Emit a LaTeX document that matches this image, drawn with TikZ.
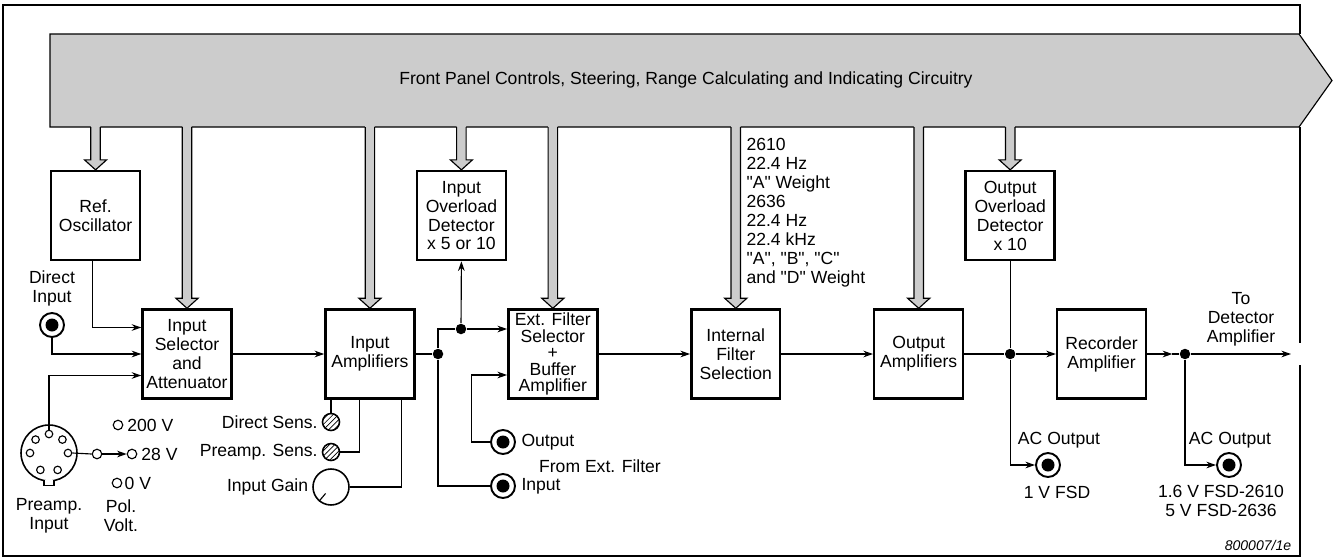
\documentclass[tikz,border=0pt]{standalone}
\usepackage{fontspec}
\setmainfont{Liberation Sans}
\usetikzlibrary{arrows.meta,positioning,calc,patterns}
\definecolor{busgray}{HTML}{CCCCCC}
\newcommand{\qq}[1]{\textquotedbl#1\textquotedbl}
% hollow grey arrow from the control bus down to a block
\newcommand{\ctrlarrow}[1]{%
  \fill[busgray] let \p1=(#1.north), \p2=(busb) in
    (\x1-2.7pt,\y2+0.6pt) -- (\x1-2.7pt,\y1+5.7pt) -- (\x1-6.3pt,\y1+5.7pt) -- (\x1,\y1)
    -- (\x1+6.3pt,\y1+5.7pt) -- (\x1+2.7pt,\y1+5.7pt) -- (\x1+2.7pt,\y2+0.6pt) -- cycle;
  \draw let \p1=(#1.north), \p2=(busb) in
    (\x1-2.7pt,\y2) -- (\x1-2.7pt,\y1+5.7pt) -- (\x1-6.3pt,\y1+5.7pt) -- (\x1,\y1)
    -- (\x1+6.3pt,\y1+5.7pt) -- (\x1+2.7pt,\y1+5.7pt) -- (\x1+2.7pt,\y2);}

\begin{document}
\begin{tikzpicture}[
      x=0.02cm, y=-0.02cm, line width=0.65pt,
      every node/.style={font=\fontsize{10}{10.8}\selectfont},
      block/.style={draw, line width=1.4pt, minimum width=1.78cm, minimum height=1.78cm, align=center, inner sep=1pt},
      jack/.style={circle, draw, line width=1.1pt, minimum size=0.48cm, inner sep=0pt,
        path picture={\fill (path picture bounding box.center) circle (0.13cm);}},
      knob/.style={circle, draw, line width=0.9pt, minimum size=0.34cm, inner sep=0pt, pattern=north east lines},
      gainknob/.style={circle, draw, line width=0.9pt, minimum size=0.72cm, inner sep=0pt},
      term/.style={circle, draw, minimum size=0.19cm, inner sep=0pt},
      pin/.style={circle, draw, minimum size=0.15cm, inner sep=0pt},
      dot/.style={circle, fill, minimum size=0.21cm, inner sep=0pt},
      sig/.style={-{Stealth[length=5.5pt,width=3.8pt]}},
      lbl/.style={align=center, inner sep=0pt}
    ]
    \useasboundingbox (0,0) rectangle (1333,558);

    % frame
    \draw (1300,127) -- (1300,343);
    \draw (1300,365) -- (1300,556) -- (3,556) -- (3,5) -- (1300,5) -- (1300,34);

    % control bus
    \filldraw[fill=busgray] (50,34) -- (1299,34) -- (1332,80.5) -- (1299,127) -- (50,127) -- cycle;
    \node[lbl] (bustext) at (686,80) {Front Panel Controls, Steering, Range Calculating and Indicating Circuitry};
    \coordinate (busb) at (0,127);

    % signal chain
    \node[block] (insel) at (187,354) {Input\\Selector\\and\\Attenuator};
    \node[block, right=1.83cm of insel] (inamp) {Input\\Amplifiers};
    \node[block, right=1.83cm of inamp, font=\fontsize{10}{9.4}\selectfont] (extf) {Ext. Filter\\Selector\\+\\Buffer\\Amplifier};
    \node[block, right=1.83cm of extf] (intf) {Internal\\Filter\\Selection};
    \node[block, right=1.83cm of intf] (outamp) {Output\\Amplifiers};
    \node[block, right=1.83cm of outamp] (rec) {Recorder\\Amplifier};
    \node[block, above left=0.94cm and 0cm of insel] (refosc) {Ref.\\Oscillator};
    \node[block, above left=0.94cm and 0cm of extf] (inover) {Input\\Overload\\Detector\\x 5 or 10};
    \node[block, above left=0.94cm and 0cm of rec] (outover) {Output\\Overload\\Detector\\x 10};

    \node[lbl, align=left, anchor=north west] (weights) at (746,138)
      {2610\\22.4 Hz\\\qq{A} Weight\\2636\\22.4 Hz\\22.4 kHz\\\qq{A}, \qq{B}, \qq{C}\\and \qq{D} Weight};

    \foreach \b in {refosc,insel,inamp,inover,extf,intf,outamp,outover} {\ctrlarrow{\b}}

    % inputs
    \node[jack] (dirin) at (52,325) {};
    \node[lbl, above=3pt of dirin] (dirinlbl) {Direct\\Input};
    \node[circle, draw, line width=0.9pt, minimum size=1.12cm, inner sep=0pt] (din) at (49,453) {};
    \draw[fill=white] ([xshift=-0.1cm,yshift=0.04cm]din.south) -- ++(0,6) -- ++(10,0) -- ++(0,-6);
    \foreach \a [count=\i] in {90,135,45,180,0,243,297}
      \node[pin] (pin\i) at ($(din.center)+(\a:0.38cm)$) {};
    \node[lbl] (dinlbl) at (49,516) {Preamp.\\Input};
    \node[term] (sel) at (97,454) {};
    \node[term] (v200) at (118,425) {};
    \node[term] (v28) at (132,454) {};
    \node[term] (v0) at (117,483) {};
    \node[lbl, right=2pt of v200] (v200lbl) {200 V};
    \node[lbl, right=2pt of v28] (v28lbl) {28 V};
    \node[lbl, right=1pt of v0] (v0lbl) {0 V};
    \node[lbl] (pollbl) at (121,516) {Pol.\\Volt.};

    % gain controls
    \node[knob] (dsens) at (331,422) {};
    \node[knob] (psens) at (331,452) {};
    \node[gainknob] (gain) at (331,487) {};
    \draw (gain.230) -- ($(gain.center)!0.45!(gain.230)$);
    \node[lbl, left=2pt of dsens] (dsenslbl) {Direct Sens.};
    \node[lbl, left=2pt of psens] (psenslbl) {Preamp. Sens.};
    \node[lbl, left=2pt of gain] (gainlbl) {Input Gain};

    % ext. filter sockets
    \node[dot] (j1) at (438,354) {};
    \node[dot] (j2) at (461,329) {};
    \node[jack] (extout) at (503,442) {};
    \node[jack] (extin) at (503,486) {};
    \node[lbl, right=0.1cm of extout] (extoutlbl) {Output};
    \node[lbl, right=0.1cm of extin] (extinlbl) {Input};
    \node[lbl] (extlbl) at (600,466) {From Ext. Filter};

    % outputs
    \node[dot] (j3) at (outover.south |- outamp.east) {};
    \node[dot] (j4) at (1185,354) {};
    \coordinate (todet) at (1291,354);
    \node[jack] (acout1) at (1048,465) {};
    \node[jack] (acout2) at (1229,465) {};
    \node[lbl] (ac1lbl) at (1059,440) {AC Output};
    \node[lbl] (ac1fsd) at (1057,492) {1 V FSD};
    \node[lbl] (ac2lbl) at (1230,440) {AC Output};
    \node[lbl] (ac2fsd) at (1221,501) {1.6 V FSD-2610\\5 V FSD-2636};
    \node[lbl] (todetlbl) at (1241,319) {To\\Detector\\Amplifier};
    \node[lbl, font=\fontsize{8}{9}\selectfont\itshape] (figno) at (1258,545) {800007/1e};

    % connections
    \draw[sig] ([xshift=-0.06cm]refosc.south) |- ([yshift=0.53cm]insel.west);
    \draw[sig] (dirin.south) |- (insel.west);
    \draw[sig] (pin1.north) |- ([yshift=-0.43cm]insel.west);
    \draw (pin5.east) -- (sel.west);
    \draw[sig] (sel.east) -- (v28.west);
    \draw[sig] (insel.east) -- (inamp.west);
    \draw (dsens.north) -- (dsens.north |- inamp.south);
    \draw (psens.east) -| ([xshift=-0.2cm]inamp.south);
    \draw (gain.east) -| ([xshift=0.64cm]inamp.south);
    \draw (inamp.east) -- (j1);
    \draw (j1) |- (j2);
    \draw[sig] (j2) -- (j2 -| extf.west);
    \draw[sig] (j2) -- (inover.south);
    \draw (j1) |- (extin.west);
    \draw[sig] (extout.west) -| ([xshift=-0.72cm,yshift=-0.42cm]extf.west) -- ([yshift=-0.42cm]extf.west);
    \draw[sig] (extf.east) -- (intf.west);
    \draw[sig] (intf.east) -- (outamp.west);
    \draw (outamp.east) -- (j3);
    \draw (outover.south) -- (j3);
    \draw[sig] (j3) -- (rec.west);
    \draw[sig] (j3) |- (acout1.west);
    \draw[sig] (rec.east) -- ([xshift=0.5cm]rec.east);
    \draw ([xshift=0.5cm]rec.east) -- (j4);
    \draw[sig] (j4) -- (todet);
    \draw[sig] (j4) |- (acout2.west);
  \end{tikzpicture}
\end{document}
